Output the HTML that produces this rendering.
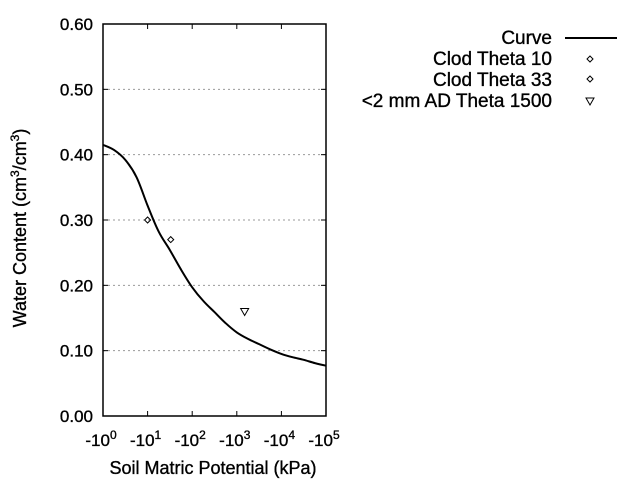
<!DOCTYPE html>
<html><head><meta charset="utf-8"><style>
body{margin:0;background:#fff}
svg{display:block;font-family:"Liberation Sans",sans-serif}
.t{stroke:#000;stroke-width:0.35}
</style></head><body>
<svg id="chart" width="640" height="480">
<g id="grid"></g>
<g id="axes"></g>
<g id="marks"></g>
<text x="213" y="474" font-size="18" text-anchor="middle" class="t">Soil Matric Potential (kPa)</text>
<text transform="translate(26,228) rotate(-90)" font-size="18" text-anchor="middle" class="t">Water Content (cm<tspan dy="-7" font-size="12">3</tspan><tspan dy="7">/cm</tspan><tspan dy="-7" font-size="12">3</tspan><tspan dy="7">)</tspan></text>
<g>
<text x="552" y="44" font-size="19" text-anchor="end" class="t">Curve</text>
<line x1="565" y1="38" x2="617" y2="38" stroke="#000" stroke-width="2"/>
<text x="552" y="65" font-size="19" text-anchor="end" class="t">Clod Theta 10</text>
<path d="M590,56 l3,3 l-3,3 l-3,-3 z" fill="none" stroke="#000"/>
<text x="552" y="86" font-size="19" text-anchor="end" class="t">Clod Theta 33</text>
<path d="M590,76 l3,3 l-3,3 l-3,-3 z" fill="none" stroke="#000"/>
<text x="552" y="107" font-size="19" text-anchor="end" class="t">&lt;2 mm AD Theta 1500</text>
<path d="M586,98 h8 l-4,7 z" fill="none" stroke="#000"/>
</g>
</svg>
<script>
const xDecades=[0,1,2,3,4,5];
const yTicks=[0,0.1,0.2,0.3,0.4,0.5,0.6];
const yTickLabels=["0.00","0.10","0.20","0.30","0.40","0.50","0.60"];
const curveLogH=[0,0.25,0.5,0.75,1,1.25,1.5,1.75,2,2.25,2.5,2.75,3,3.25,3.5,3.75,4,4.25,4.5,4.75,5];
const curveTheta=[0.415,0.407,0.392,0.366,0.322,0.282,0.254,0.224,0.197,0.176,0.159,0.142,0.128,0.118,0.110,0.102,0.095,0.090,0.086,0.081,0.077];
const pointH=[10,33];
const pointTheta=[0.30,0.27];
const triH=[1500];
const triTheta=[0.16];
const L=103,R=326,T=24,B=416;
const xs=v=>L+(v-0)/5*(R-L);
const ys=v=>B-(v/0.6)*(B-T);
const NS="http://www.w3.org/2000/svg";
function mk(p,tag,a){const e=document.createElementNS(NS,tag);for(const k in a)e.setAttribute(k,a[k]);p.appendChild(e);return e;}
const grid=document.getElementById('grid'),axes=document.getElementById('axes'),marks=document.getElementById('marks');
yTicks.forEach((t,i)=>{
 const y=ys(t);
 if(t>0&&t<0.6){const g=mk(grid,'line',{x1:L,x2:R,y1:y,y2:y,stroke:'#999','stroke-dasharray':'2,3'});
 
 }
 const k=mk(axes,'line',{x1:L,x2:L+5,y1:y,y2:y,stroke:'#000'});
 
 
 const k2=mk(axes,'line',{x1:R-5,x2:R,y1:y,y2:y,stroke:'#000'});
 
 
 const tx=mk(axes,'text',{x:L-10,y:y+6,'font-size':17,'text-anchor':'end','class':'t'});
 tx.textContent=yTickLabels[i];
 
 
});
xDecades.forEach(d=>{
 const x=xs(d);
 const k=mk(axes,'line',{x1:x,x2:x,y1:B,y2:B-5,stroke:'#000'});
 
 
 const k2=mk(axes,'line',{x1:x,x2:x,y1:T,y2:T+5,stroke:'#000'});
 
 
 const tx=mk(axes,'text',{x:x-2,y:B+30,'font-size':17,'text-anchor':'middle','class':'t'});
 tx.innerHTML='-10<tspan dy="-7" font-size="12">'+d+'</tspan>';
 
 
});
const fr=mk(axes,'rect',{x:L,y:T,width:R-L,height:B-T,fill:'none',stroke:'#000','stroke-width':1.5});


const P=curveLogH.map((v,i)=>[xs(v),ys(curveTheta[i])]);
let d='M'+P[0][0].toFixed(1)+','+P[0][1].toFixed(1);
for(let i=0;i<P.length-1;i++){
 const p0=P[Math.max(i-1,0)],p1=P[i],p2=P[i+1],p3=P[Math.min(i+2,P.length-1)];
 const c1=[p1[0]+(p2[0]-p0[0])/6,p1[1]+(p2[1]-p0[1])/6],c2=[p2[0]-(p3[0]-p1[0])/6,p2[1]-(p3[1]-p1[1])/6];
 d+=` C${c1[0].toFixed(1)},${c1[1].toFixed(1)} ${c2[0].toFixed(1)},${c2[1].toFixed(1)} ${p2[0].toFixed(1)},${p2[1].toFixed(1)}`;
}
const c=mk(marks,'path',{d:d,fill:'none',stroke:'#000','stroke-width':2});


pointH.forEach((h,i)=>{
 const x=xs(Math.log10(h)),y=ys(pointTheta[i]);
 const p=mk(marks,'path',{d:`M${x},${y-3} l3,3 l-3,3 l-3,-3 z`,fill:'none',stroke:'#000'});
 
 
});
triH.forEach((h,i)=>{
 const x=xs(Math.log10(h)),y=ys(triTheta[i]);
 const p=mk(marks,'path',{d:`M${x-4},${y-3} h8 l-4,7 z`,fill:'none',stroke:'#000'});
 
 
});
</script>
</body></html>
